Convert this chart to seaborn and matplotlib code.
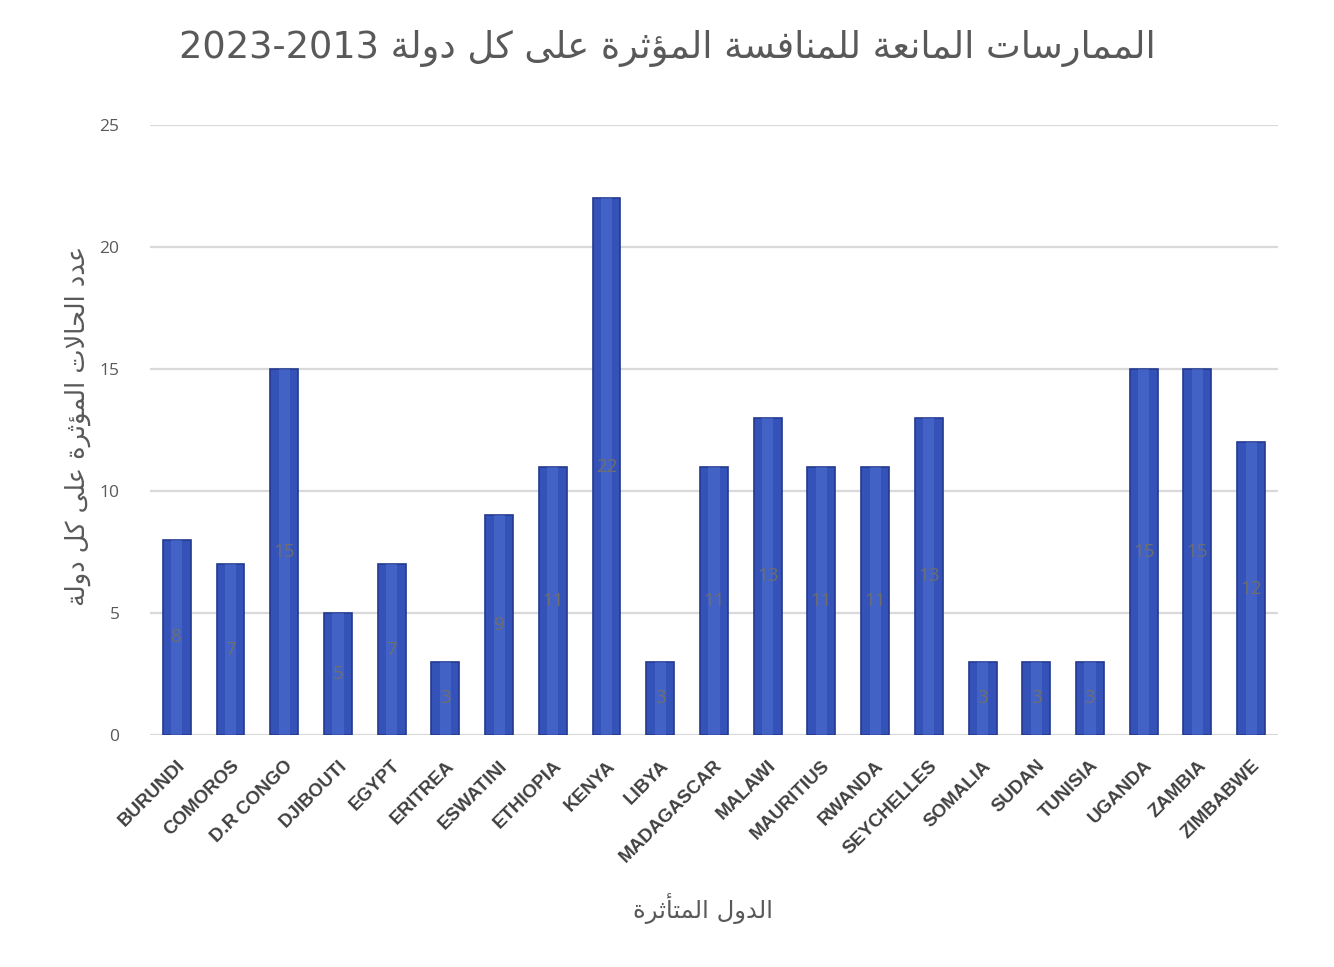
import numpy as np
import pandas as pd
import matplotlib
matplotlib.use("Agg")
import matplotlib.pyplot as plt
import seaborn as sns

# ---- data ----
countries = ["BURUNDI", "COMOROS", "D.R CONGO", "DJIBOUTI", "EGYPT", "ERITREA",
             "ESWATINI", "ETHIOPIA", "KENYA", "LIBYA", "MADAGASCAR", "MALAWI",
             "MAURITIUS", "RWANDA", "SEYCHELLES", "SOMALIA", "SUDAN", "TUNISIA",
             "UGANDA", "ZAMBIA", "ZIMBABWE"]
cases = [8, 7, 15, 5, 7, 3, 9, 11, 22, 3, 11, 13, 11, 11, 13, 3, 3, 3, 15, 15, 12]
y_ticks = [0, 5, 10, 15, 20, 25]

title_text = "الممارسات المانعة للمنافسة المؤثرة على كل دولة 2013-2023"
ylabel_text = "عدد الحالات المؤثرة على كل دولة"
xlabel_text = "الدول المتأثرة"

# ---- minimal Arabic shaping (presentation forms + right-to-left order) ----
# (isolated, final, initial, medial)
FORMS = {
    "ا": ("\uFE8D", "\uFE8E", None, None),
    "أ": ("\uFE83", "\uFE84", None, None),
    "ؤ": ("\uFE85", "\uFE86", None, None),
    "ب": ("\uFE8F", "\uFE90", "\uFE91", "\uFE92"),
    "ة": ("\uFE93", "\uFE94", None, None),
    "ت": ("\uFE95", "\uFE96", "\uFE97", "\uFE98"),
    "ث": ("\uFE99", "\uFE9A", "\uFE9B", "\uFE9C"),
    "ح": ("\uFEA1", "\uFEA2", "\uFEA3", "\uFEA4"),
    "د": ("\uFEA9", "\uFEAA", None, None),
    "ر": ("\uFEAD", "\uFEAE", None, None),
    "س": ("\uFEB1", "\uFEB2", "\uFEB3", "\uFEB4"),
    "ع": ("\uFEC9", "\uFECA", "\uFECB", "\uFECC"),
    "ف": ("\uFED1", "\uFED2", "\uFED3", "\uFED4"),
    "ك": ("\uFED9", "\uFEDA", "\uFEDB", "\uFEDC"),
    "ل": ("\uFEDD", "\uFEDE", "\uFEDF", "\uFEE0"),
    "م": ("\uFEE1", "\uFEE2", "\uFEE3", "\uFEE4"),
    "ن": ("\uFEE5", "\uFEE6", "\uFEE7", "\uFEE8"),
    "و": ("\uFEED", "\uFEEE", None, None),
    "ى": ("\uFEEF", "\uFEF0", None, None),
    "ي": ("\uFEF1", "\uFEF2", "\uFEF3", "\uFEF4"),
}
LAM_ALEF = {"ا": ("\uFEFB", "\uFEFC"), "أ": ("\uFEF7", "\uFEF8")}


def joins_forward(ch):
    return ch in FORMS and FORMS[ch][2] is not None


def shape(text):
    out = []
    i = 0
    n = len(text)
    while i < n:
        ch = text[i]
        if ch not in FORMS:
            out.append(ch)
            i += 1
            continue
        prev_conn = i > 0 and joins_forward(text[i - 1])
        nxt = text[i + 1] if i + 1 < n else ""
        if ch == "ل" and nxt in LAM_ALEF:
            out.append(LAM_ALEF[nxt][1 if prev_conn else 0])
            i += 2
            continue
        next_conn = joins_forward(ch) and nxt in FORMS
        iso, fin, ini, med = FORMS[ch]
        if prev_conn and next_conn:
            out.append(med)
        elif prev_conn:
            out.append(fin)
        elif next_conn:
            out.append(ini)
        else:
            out.append(iso)
        i += 1
    # visual order: reverse, keeping digit runs left-to-right
    tokens = []
    for c in "".join(out):
        if c.isdigit() and tokens and tokens[-1].isdigit():
            tokens[-1] += c
        else:
            tokens.append(c)
    return "".join(reversed(tokens))


# ---- plot ----
sns.set_theme(style="white")
plt.rcParams["font.family"] = ["DejaVu Sans"]

fig = plt.figure(figsize=(13.34, 9.67), dpi=100)
ax = fig.add_axes([0.1124, 0.2399, 0.8456, 0.6309])

df = pd.DataFrame({"country": countries, "cases": cases})
sns.barplot(data=df, x="country", y="cases", color="#3552B8", width=0.52,
            saturation=1, edgecolor="#22398f", linewidth=1.2, ax=ax, zorder=3)

# light cylinder-style highlight on each bar
for patch in list(ax.patches):
    x0 = patch.get_x()
    w = patch.get_width()
    h = patch.get_height()
    ax.bar(x0 + w * 0.5, h, width=w * 0.4, bottom=0, color="#5577D8",
           alpha=0.45, linewidth=0, zorder=4)

# value labels at mid-height
for i, v in enumerate(cases):
    ax.text(i, v / 2, str(v), ha="center", va="center", fontsize=13.5,
            color="#6e6e6e", zorder=5, family="Open Sans")

ax.set_ylim(0, 25)
ax.set_xlim(-0.5, len(countries) - 0.5)
ax.set_yticks(y_ticks)
ax.set_yticklabels([str(t) for t in y_ticks], fontsize=12.5, color="#595959",
                   family="Open Sans")
ax.tick_params(axis="y", length=0, pad=22)
ax.tick_params(axis="x", length=0, pad=16)
ax.set_xticks(range(len(countries)))
ax.set_xticklabels(countries, rotation=45, ha="right", rotation_mode="anchor",
                   fontsize=13.5, fontweight="bold", color="#404040",
                   family="Liberation Sans")

ax.yaxis.grid(True, color="#d9d9d9", linewidth=1.6, zorder=0)
ax.xaxis.grid(False)
for s in ax.spines.values():
    s.set_visible(False)

ax.set_xlabel("")
ax.set_ylabel("")
fig.text(0.5, 0.950, shape(title_text), ha="center", va="center",
         fontsize=26.5, color="#595959")
fig.text(0.0585, 0.56, shape(ylabel_text), ha="center", va="center",
         rotation=90, fontsize=18.5, color="#595959")
fig.text(0.527, 0.061, shape(xlabel_text), ha="center", va="center",
         fontsize=17.5, color="#595959")

fig.savefig("out.png", dpi=100, facecolor="white")
